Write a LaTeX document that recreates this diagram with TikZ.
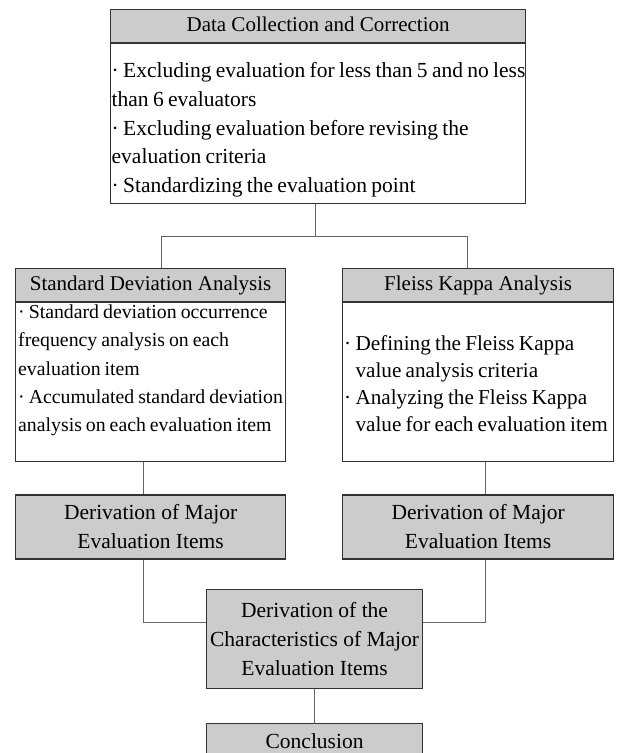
\documentclass[tikz,border=0pt]{standalone}
\usepackage{fontspec}
\setmainfont{Liberation Serif}
\newfontfamily\bodyfont{Liberation Serif}[WordSpace=0.8]
\usetikzlibrary{positioning}

\begin{document}
\begin{tikzpicture}[x=1pt,y=-1pt,
		headbox/.style={draw=black!80,line width=1.2pt,fill=gray!40,inner sep=0pt,
			minimum height=33pt,text height=14.5pt,text depth=4.5pt,font=\fontsize{21}{28.7}\selectfont},
		bodybox/.style={draw=black!80,line width=1.2pt,fill=white,inner sep=0pt},
		bodytext/.style={anchor=west,inner sep=0pt,align=left,font=\bodyfont\fontsize{19.8}{28.3}\selectfont},
		majorbox/.style={draw=black!80,line width=1.2pt,fill=gray!40,inner sep=0pt,
			align=center,font=\fontsize{21.5}{29}\selectfont},
		link/.style={draw=black!60,line width=1pt}]
		\useasboundingbox (0,0) rectangle (620,753);
		\node[headbox,anchor=north west,minimum width=415pt] (dchead) at (110,9) {Data Collection and Correction};
		\node[bodybox,below=0pt of dchead,minimum width=415pt,minimum height=160pt] (dcbody) {};
		\node[bodytext,font=\bodyfont\fontsize{21.5}{28.75}\selectfont] (dctext) at ([xshift=1.5pt,yshift=-6pt]dcbody.west)
			{· Excluding evaluation for less than 5 and no less\\
			than 6 evaluators\\
			· Excluding evaluation before revising the\\
			evaluation criteria\\
			· Standardizing the evaluation point};
		\node[headbox,anchor=north west,minimum width=270pt] (sdhead) at (15,268) {Standard Deviation Analysis};
		\node[bodybox,below=0pt of sdhead,minimum width=270pt,minimum height=159pt] (sdbody) {};
		\node[bodytext] (sdtext) at ([xshift=3pt,yshift=12pt]sdbody.west)
			{· Standard deviation occurrence\\
			frequency analysis on each\\
			evaluation item\\
			· Accumulated standard deviation\\
			analysis on each evaluation item};
		\node[headbox,anchor=north west,minimum width=271pt] (fkhead) at (342,268) {Fleiss Kappa Analysis};
		\node[bodybox,below=0pt of fkhead,minimum width=271pt,minimum height=159pt] (fkbody) {};
		\node[bodytext,font=\bodyfont\fontsize{21.2}{27}\selectfont] (fktext) at ([xshift=2pt,yshift=-1pt]fkbody.west)
			{· Defining the Fleiss Kappa\\
			\phantom{·\ }value analysis criteria\\
			· Analyzing the Fleiss Kappa\\
			\phantom{·\ }value for each evaluation item};
		\node[majorbox,below=32pt of sdbody,minimum width=270pt,minimum height=64pt] (sdmajor)
			{Derivation of Major\\Evaluation Items};
		\node[majorbox,below=32pt of fkbody,minimum width=271pt,minimum height=64pt] (fkmajor)
			{Derivation of Major\\Evaluation Items};
		\node[majorbox,anchor=north west,minimum width=216pt,minimum height=99pt] (chars) at (206,589)
			{Derivation of the\\Characteristics of Major\\Evaluation Items};
		\node[majorbox,below=34pt of chars,minimum width=216pt,minimum height=34pt] (concl) {Conclusion};

		\coordinate (split) at ([xshift=-3pt,yshift=-32pt]dcbody.south);
		\draw[link] ([xshift=-3pt]dcbody.south) -- (split);
		\draw[link] ([xshift=11pt]sdhead.north) |- (split) -| ([xshift=-10.5pt]fkhead.north);
		\draw[link] ([xshift=-7pt]sdbody.south) -- ([xshift=-7pt]sdmajor.north);
		\draw[link] ([xshift=7.5pt]fkbody.south) -- ([xshift=7.5pt]fkmajor.north);
		\draw[link] ([xshift=-7pt]sdmajor.south) |- ([yshift=16.5pt]chars.west);
		\draw[link] ([xshift=7.5pt]fkmajor.south) |- ([yshift=16.5pt]chars.east);
		\draw[link] (chars) -- (concl);
\end{tikzpicture}
\end{document}
